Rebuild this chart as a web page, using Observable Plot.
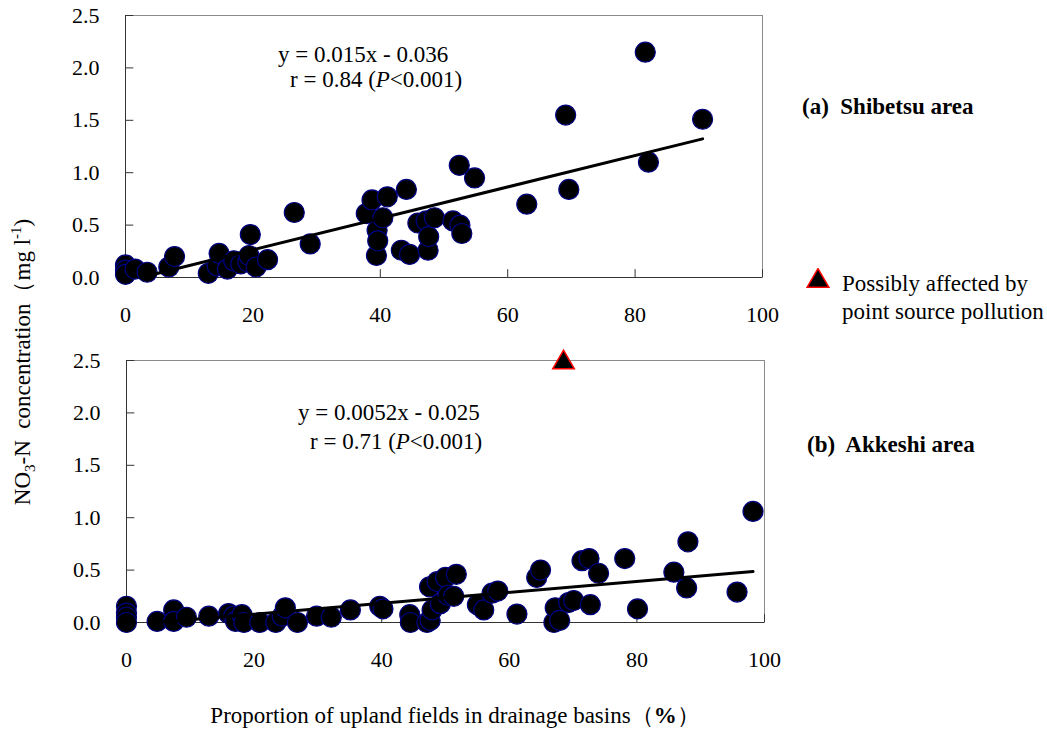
<!DOCTYPE html>
<html><head><meta charset="utf-8">
<script src="https://cdn.jsdelivr.net/npm/d3@7"></script>
<script src="https://cdn.jsdelivr.net/npm/@observablehq/plot@0.6"></script>
<style>
body{margin:0;background:#fff;}
#wrap{position:relative;width:1047px;height:732px;font-family:"Liberation Serif","Times New Roman",serif;font-size:23px;color:#000;overflow:hidden;}
.abs{position:absolute;white-space:pre;line-height:1;}
.plot{position:absolute;left:0;}
sub,sup{font-size:65%;line-height:0;}
</style></head><body>
<div id="wrap">
  <div id="p1" class="plot" style="top:0"></div>
  <div id="p2" class="plot" style="top:340px"></div>
  <div class="abs" style="left:278px;top:43px">y = 0.015x - 0.036</div>
  <div class="abs" style="left:290px;top:68px">r = 0.84 (<i>P</i>&lt;0.001)</div>
  <div class="abs" style="left:298px;top:401px">y = 0.0052x - 0.025</div>
  <div class="abs" style="left:310px;top:430px">r = 0.71 (<i>P</i>&lt;0.001)</div>
  <div class="abs" style="left:802px;top:95px;font-weight:bold">(a)  Shibetsu area</div>
  <div class="abs" style="left:807px;top:433px;font-weight:bold">(b)  Akkeshi area</div>
  <svg id="legtri" style="position:absolute;left:806px;top:268px" width="24" height="24"></svg>
  <div class="abs" style="left:842px;top:273px;line-height:28px;margin-top:-3px">Possibly affected by
point source pollution</div>
  <div class="abs" style="left:22px;top:362px;transform:translate(-50%,-50%) rotate(-90deg)">NO<sub>3</sub>-N  concentration（mg l<sup>-1</sup>)</div>
  <div class="abs" style="left:455px;top:715px;transform:translate(-50%,-50%)">Proportion of upland fields in drainage basins（<b>%</b>）</div>
</div>
<script>
// ---- data ----
const xTicks = [0, 20, 40, 60, 80, 100];
const yTicks = [0, 0.5, 1.0, 1.5, 2.0, 2.5];

// (a) Shibetsu area
const shibetsuX = [0, 0, 0, 1.5, 3.4, 6.8, 7.7, 13, 14.4, 14.7, 16, 17, 18.1, 19.2, 19.4, 19.6, 20.5, 22.3, 26.5, 29, 37.8, 38.7, 39.4, 39.5, 39.6, 40.4, 41.1, 43.3, 44.1, 44.6, 45.9, 47.2, 47.5, 47.6, 48.5, 51.4, 52.4, 52.5, 52.8, 54.8, 63, 69.1, 69.6, 81.6, 82.1, 90.6];
const shibetsuY = [0.12, 0.07, 0.03, 0.08, 0.05, 0.1, 0.2, 0.04, 0.11, 0.23, 0.08, 0.16, 0.13, 0.15, 0.21, 0.41, 0.1, 0.17, 0.62, 0.32, 0.61, 0.74, 0.21, 0.45, 0.35, 0.57, 0.77, 0.26, 0.84, 0.22, 0.52, 0.54, 0.26, 0.39, 0.57, 0.54, 1.07, 0.5, 0.42, 0.95, 0.70, 1.55, 0.84, 2.15, 1.10, 1.51];
const shibetsuFit = {slope: 0.015, intercept: -0.036, xRange: [2.4, 90.6]};

// (b) Akkeshi area
const akkeshiX = [0, 0, 0, 0, 4.8, 7.4, 7.4, 9.4, 12.9, 16, 16.8, 17.1, 18.1, 18.4, 20.9, 23.4, 24.4, 24.9, 26.8, 29.8, 32.1, 35.1, 39.7, 40.2, 44.4, 44.5, 47.1, 47.6, 47.9, 47.5, 48.7, 49.2, 50.0, 50.4, 51.3, 51.7, 55, 56, 57.3, 58.2, 61.2, 64.3, 64.9, 67, 67.2, 67.9, 69.3, 70.1, 71.4, 72.5, 72.7, 74, 78.1, 80.1, 85.8, 87.8, 88, 95.7, 98.2];
const akkeshiY = [0.155, 0.09, 0.05, 0.0, 0.01, 0.12, 0.01, 0.05, 0.06, 0.085, 0.06, 0.01, 0.075, 0.0, 0.0, 0.0, 0.06, 0.14, 0.0, 0.06, 0.05, 0.12, 0.155, 0.13, 0.075, 0.0, 0.0, 0.02, 0.12, 0.34, 0.39, 0.18, 0.43, 0.26, 0.25, 0.46, 0.17, 0.12, 0.28, 0.30, 0.08, 0.43, 0.50, 0.0, 0.14, 0.02, 0.19, 0.21, 0.59, 0.61, 0.17, 0.47, 0.61, 0.13, 0.48, 0.33, 0.77, 0.29, 1.06];
const akkeshiFit = {slope: 0.0052, intercept: -0.025, xRange: [4.8, 98.2]};
// point possibly affected by point source pollution (off-scale, plotted at top)
const pointSourceX = [68.5];
const pointSourceY = [2.48];

// ---- build ----
const zip = (xs, ys) => xs.map((x, i) => ({x, y: ys[i]}));
const fitLine = f => f.xRange.map(x => ({x, y: f.slope * x + f.intercept}));

function panel(data, fit, extra, o) {
  return Plot.plot({
    width: 790, height: o.mt + 262 + 50,
    marginLeft: o.left, marginRight: 790 - o.right, marginTop: o.mt, marginBottom: 50,
    style: {fontFamily: "'Liberation Serif','Times New Roman',serif", fontSize: "22px", color: "#000", background: "transparent", overflow: "visible"},
    x: {domain: [0, 100], ticks: xTicks, tickSize: 0, tickPadding: 29, label: null},
    y: {domain: [0, 2.5], ticks: yTicks, tickSize: 0, tickPadding: 26, tickFormat: d3.format(".1f"), label: null},
    marks: [
      Plot.frame({stroke: "#8a8a8a"}),
      Plot.ruleX([0], {stroke: "#333"}),
      Plot.ruleY([0], {stroke: "#333"}),
      Plot.ruleY(yTicks, {x1: 0, x2: 1.3, stroke: "#333"}),
      Plot.ruleX(xTicks, {y1: 0, y2: 0.075, stroke: "#333"}),
      Plot.dot(data, {x: "x", y: "y", r: 10, fill: "black", stroke: "#000080", strokeWidth: 1.2}),
      Plot.line(fitLine(fit), {x: "x", y: "y", stroke: "black", strokeWidth: 3}),
      ...extra
    ]
  });
}

document.getElementById("p1").append(panel(zip(shibetsuX, shibetsuY), shibetsuFit, [], {left: 125, right: 762, mt: 15}));
document.getElementById("p2").append(panel(zip(akkeshiX, akkeshiY), akkeshiFit, [
  Plot.dot(zip(pointSourceX, pointSourceY), {x: "x", y: "y", symbol: "triangle", r: 8, fill: "black", stroke: "red", strokeWidth: 1.5})
], {left: 126, right: 764, mt: 20}));

// legend symbol
d3.select("#legtri").append("path")
  .attr("transform", "translate(12,13)")
  .attr("d", d3.symbol(d3.symbolTriangle, Math.PI * 64)())
  .attr("fill", "black").attr("stroke", "red").attr("stroke-width", 1.5);
</script>
</body></html>
